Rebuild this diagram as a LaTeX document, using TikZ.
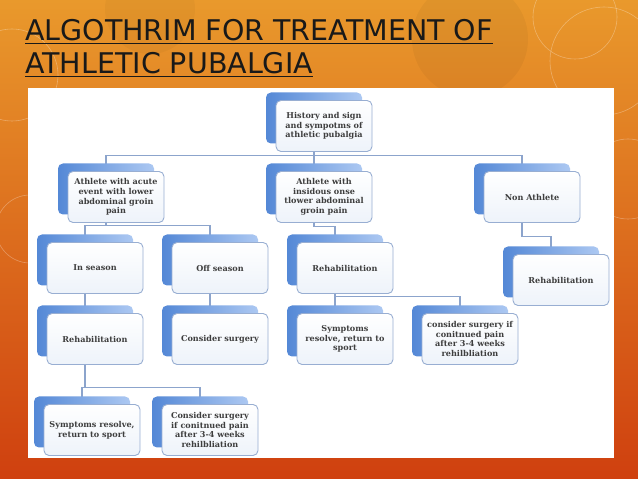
\documentclass[tikz,border=0pt]{standalone}
\usepackage{fontspec}
\newfontfamily\headfont{DejaVu Sans}
\newfontfamily\cardfont{DejaVu Serif}
\usetikzlibrary{shadows}
\definecolor{bgtop}{RGB}{233,153,44}
\definecolor{bgmid}{RGB}{226,124,34}
\definecolor{bgbot}{RGB}{207,64,15}
\definecolor{edge}{RGB}{152,174,210}
\definecolor{shadedark}{RGB}{84,136,214}
\definecolor{shadelight}{RGB}{172,200,242}
\definecolor{cardfill}{RGB}{238,243,250}
\definecolor{cardtext}{RGB}{62,62,62}
\definecolor{wire}{RGB}{140,164,204}
\pgfdeclarelayer{back}
\pgfdeclarelayer{wires}
\pgfsetlayers{back,wires,main}
\tikzset{
  card/.style={draw=edge, line width=0.9pt, rounded corners=5pt, top color=white, bottom color=cardfill,
    minimum width=96pt, minimum height=51pt, align=center, inner sep=2pt,
    text=cardtext, font=\cardfont\bfseries\fontsize{8.1}{9.6}\selectfont,
    general shadow={shadow xshift=-10pt, shadow yshift=8pt, left color=shadedark, right color=shadelight}},
  link/.style={draw=wire, line width=1.1pt},
  headline/.style={anchor=base west, inner sep=0pt, text=black!90, font=\headfont\fontsize{28.5}{33}\selectfont},
}
\begin{document}
\begin{tikzpicture}[x=1pt, y=1pt, node distance=71pt]
    \useasboundingbox (0,0) rectangle (638,479);
    \begin{pgfonlayer}{back}
        % slide background and panel
        \shade[top color=bgtop, middle color=bgmid, bottom color=bgbot] (0,0) rectangle (638,479);
        \fill[black, opacity=0.04] (470,440) circle (58);
        \fill[black, opacity=0.03] (150,470) circle (45);
        \foreach \cx/\cy/\r in {12/404/46, 604/418/54, 575/462/42, 30/250/34, 628/300/40}{
            \draw[white, opacity=0.3, line width=0.6pt] (\cx,\cy) circle (\r);
        }
        \fill[white] (28,21) rectangle (614,391);
    \end{pgfonlayer}

    \node[headline] (title1) at (25,438) {\underline{ALGOTHRIM FOR TREATMENT OF}};
    \node[headline] (title2) at (25,405) {\underline{ATHLETIC PUBALGIA}};

    \node[card] (root) at (324,353) {History and sign\\and sympotms of\\athletic pubalgia};
    \node[card, below of=root] (insid) {Athlete with\\insidous onse\\tlower abdominal\\groin pain};
    \node[card, left of=insid, node distance=208pt] (acute) {Athlete with acute\\event with lower\\abdominal groin\\pain};
    \node[card, right of=insid, node distance=208pt] (nonath) {Non Athlete};
    \node[card, below of=insid, xshift=21pt] (rehabB) {Rehabilitation};
    \node[card, left of=rehabB, node distance=250pt] (inseas) {In season};
    \node[card, left of=rehabB, node distance=125pt] (offseas) {Off season};
    \node[card, below of=nonath, node distance=83pt, xshift=29pt] (rehabN) {Rehabilitation};
    \node[card, below of=rehabB] (sympB) {Symptoms\\resolve, return to\\sport};
    \node[card, right of=sympB, node distance=125pt] (surgB) {consider surgery if\\conitnued pain\\after 3-4 weeks\\rehilbliation};
    \node[card, below of=inseas] (rehabA) {Rehabilitation};
    \node[card, below of=offseas] (surgA) {Consider surgery};
    \node[card, below of=rehabA, node distance=91pt, xshift=-3pt] (sympA) {Symptoms resolve,\\return to sport};
    \node[card, right of=sympA, node distance=118pt] (surgA2) {Consider surgery\\if conitnued pain\\after 3-4 weeks\\rehilbliation};

    \begin{pgfonlayer}{wires}
        \path[link] ([xshift=-10pt]root.south) -- ++(0,-4) -| ([xshift=-10pt]acute.north);
        \path[link] ([xshift=-10pt]root.south) -- ++(0,-4) -| ([xshift=-10pt]insid.north);
        \path[link] ([xshift=-10pt]root.south) -- ++(0,-4) -| ([xshift=-10pt]nonath.north);
        \path[link] ([xshift=-10pt]acute.south) -- ++(0,-3) -| ([xshift=-10pt]inseas.north);
        \path[link] ([xshift=-10pt]acute.south) -- ++(0,-3) -| ([xshift=-10pt]offseas.north);
        \path[link] ([xshift=-10pt]insid.south) -- ++(0,-4) -| ([xshift=-10pt]rehabB.north);
        \path[link] ([xshift=-10pt]nonath.south) -- ++(0,-14) -| ([xshift=-10pt]rehabN.north);
        \path[link] ([xshift=-10pt]inseas.south) -- ([xshift=-10pt]rehabA.north);
        \path[link] ([xshift=-10pt]offseas.south) -- ([xshift=-10pt]surgA.north);
        \path[link] ([xshift=-10pt]rehabB.south) -- ++(0,-3) -| ([xshift=-10pt]sympB.north);
        \path[link] ([xshift=-10pt]rehabB.south) -- ++(0,-3) -| ([xshift=-10pt]surgB.north);
        \path[link] ([xshift=-10pt]rehabA.south) -- ++(0,-23) -| ([xshift=-10pt]sympA.north);
        \path[link] ([xshift=-10pt]rehabA.south) -- ++(0,-23) -| ([xshift=-10pt]surgA2.north);
    \end{pgfonlayer}
\end{tikzpicture}
\end{document}
